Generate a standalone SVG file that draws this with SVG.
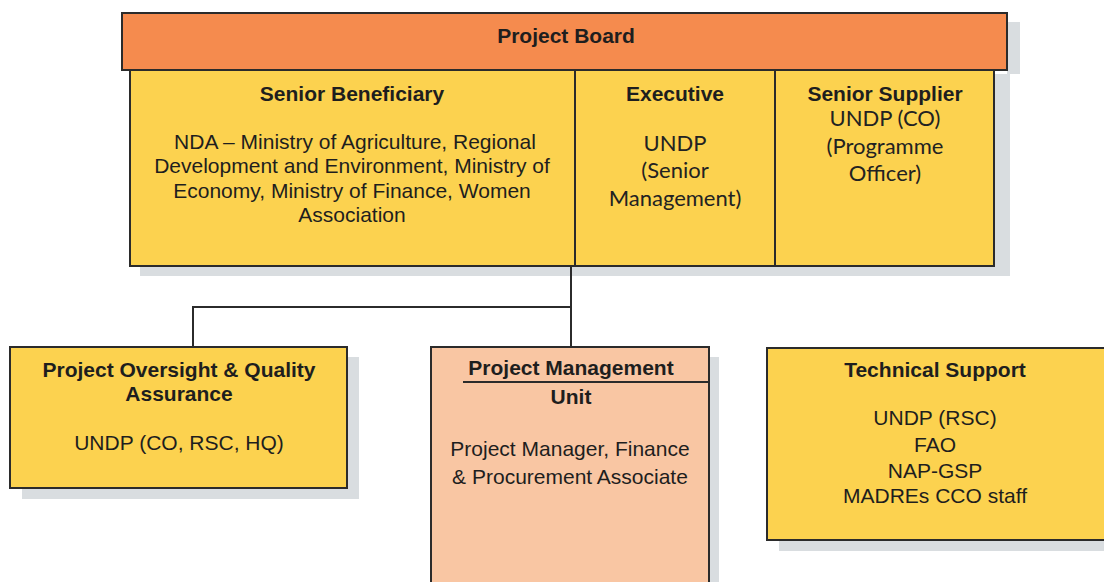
<svg xmlns="http://www.w3.org/2000/svg" width="1104" height="582" viewBox="0 0 1104 582">
  <defs>
    <style>
      .shadow { fill: #d9dde0; }
      .board { fill: #f58b4e; stroke: #2b2b2b; stroke-width: 2; }
      .yellow { fill: #fcd24f; stroke: #2b2b2b; stroke-width: 2; }
      .salmon { fill: #f9c6a3; stroke: #2b2b2b; stroke-width: 2; }
      .conn { fill: none; stroke: #2b2b2b; stroke-width: 2; }
      text { font-family: "Liberation Sans", Arial, sans-serif; fill: #1e1e1e; text-anchor: middle; }
      .h { font-weight: bold; font-size: 21px; }
      .b { font-size: 21px; }
      .c { font-family: Lato, "Open Sans", sans-serif; font-size: 22px; fill: #222; }
    </style>
  </defs>
  <rect width="1104" height="582" fill="#ffffff"/>

  <!-- drop shadows -->
  <g id="shadows">
    <rect class="shadow" x="1007" y="22" width="13" height="52"/>
    <rect class="shadow" x="995" y="74" width="15" height="200"/>
    <rect class="shadow" x="140" y="266" width="870" height="10"/>
    <rect class="shadow" x="347" y="357" width="12" height="142"/>
    <rect class="shadow" x="22" y="488" width="337" height="11"/>
    <rect class="shadow" x="709" y="357" width="10" height="225"/>
    <rect class="shadow" x="779" y="540" width="325" height="11"/>
  </g>

  <!-- connectors -->
  <g id="connectors">
    <path class="conn" d="M571,266 V347"/>
    <path class="conn" d="M571,307 H193 V347"/>
  </g>

  <g id="project-board">
    <rect class="board" x="122" y="13" width="885" height="57"/>
    <text class="h" x="566" y="43">Project Board</text>
  </g>

  <g id="senior-beneficiary">
    <rect class="yellow" x="130" y="70" width="445" height="196"/>
    <text class="h" x="352" y="101">Senior Beneficiary</text>
    <text class="b" x="355" y="149">NDA – Ministry of Agriculture, Regional</text>
    <text class="b" x="352" y="173">Development and Environment, Ministry of</text>
    <text class="b" x="352" y="198">Economy, Ministry of Finance, Women</text>
    <text class="b" x="352" y="222">Association</text>
  </g>

  <g id="executive">
    <rect class="yellow" x="575" y="70" width="200" height="196"/>
    <text class="h" x="675" y="101">Executive</text>
    <text class="c" x="675" y="151">UNDP</text>
    <text class="c" x="675" y="178">(Senior</text>
    <text class="c" x="675" y="206">Management)</text>
  </g>

  <g id="senior-supplier">
    <rect class="yellow" x="775" y="70" width="219" height="196"/>
    <text class="h" x="885" y="101">Senior Supplier</text>
    <text class="c" x="885" y="126">UNDP (CO)</text>
    <text class="c" x="885" y="154">(Programme</text>
    <text class="c" x="885" y="181">Officer)</text>
  </g>

  <g id="oversight">
    <rect class="yellow" x="10" y="347" width="337" height="141"/>
    <text class="h" x="179" y="377">Project Oversight &amp; Quality</text>
    <text class="h" x="179" y="401">Assurance</text>
    <text class="b" x="179" y="450">UNDP (CO, RSC, HQ)</text>
  </g>

  <g id="pmu">
    <rect class="salmon" x="431" y="347" width="278" height="240"/>
    <line class="conn" x1="463" y1="382" x2="709" y2="382"/>
    <text class="h" x="571" y="375">Project Management</text>
    <text class="h" x="571" y="404">Unit</text>
    <text class="b" x="570" y="456">Project Manager, Finance</text>
    <text class="b" x="570" y="484">&amp; Procurement Associate</text>
  </g>

  <g id="technical-support">
    <rect class="yellow" x="767" y="348" width="345" height="192"/>
    <text class="h" x="935" y="377">Technical Support</text>
    <text class="b" x="935" y="425">UNDP (RSC)</text>
    <text class="b" x="935" y="452">FAO</text>
    <text class="b" x="935" y="478">NAP-GSP</text>
    <text class="b" x="935" y="503">MADREs CCO staff</text>
  </g>
</svg>
